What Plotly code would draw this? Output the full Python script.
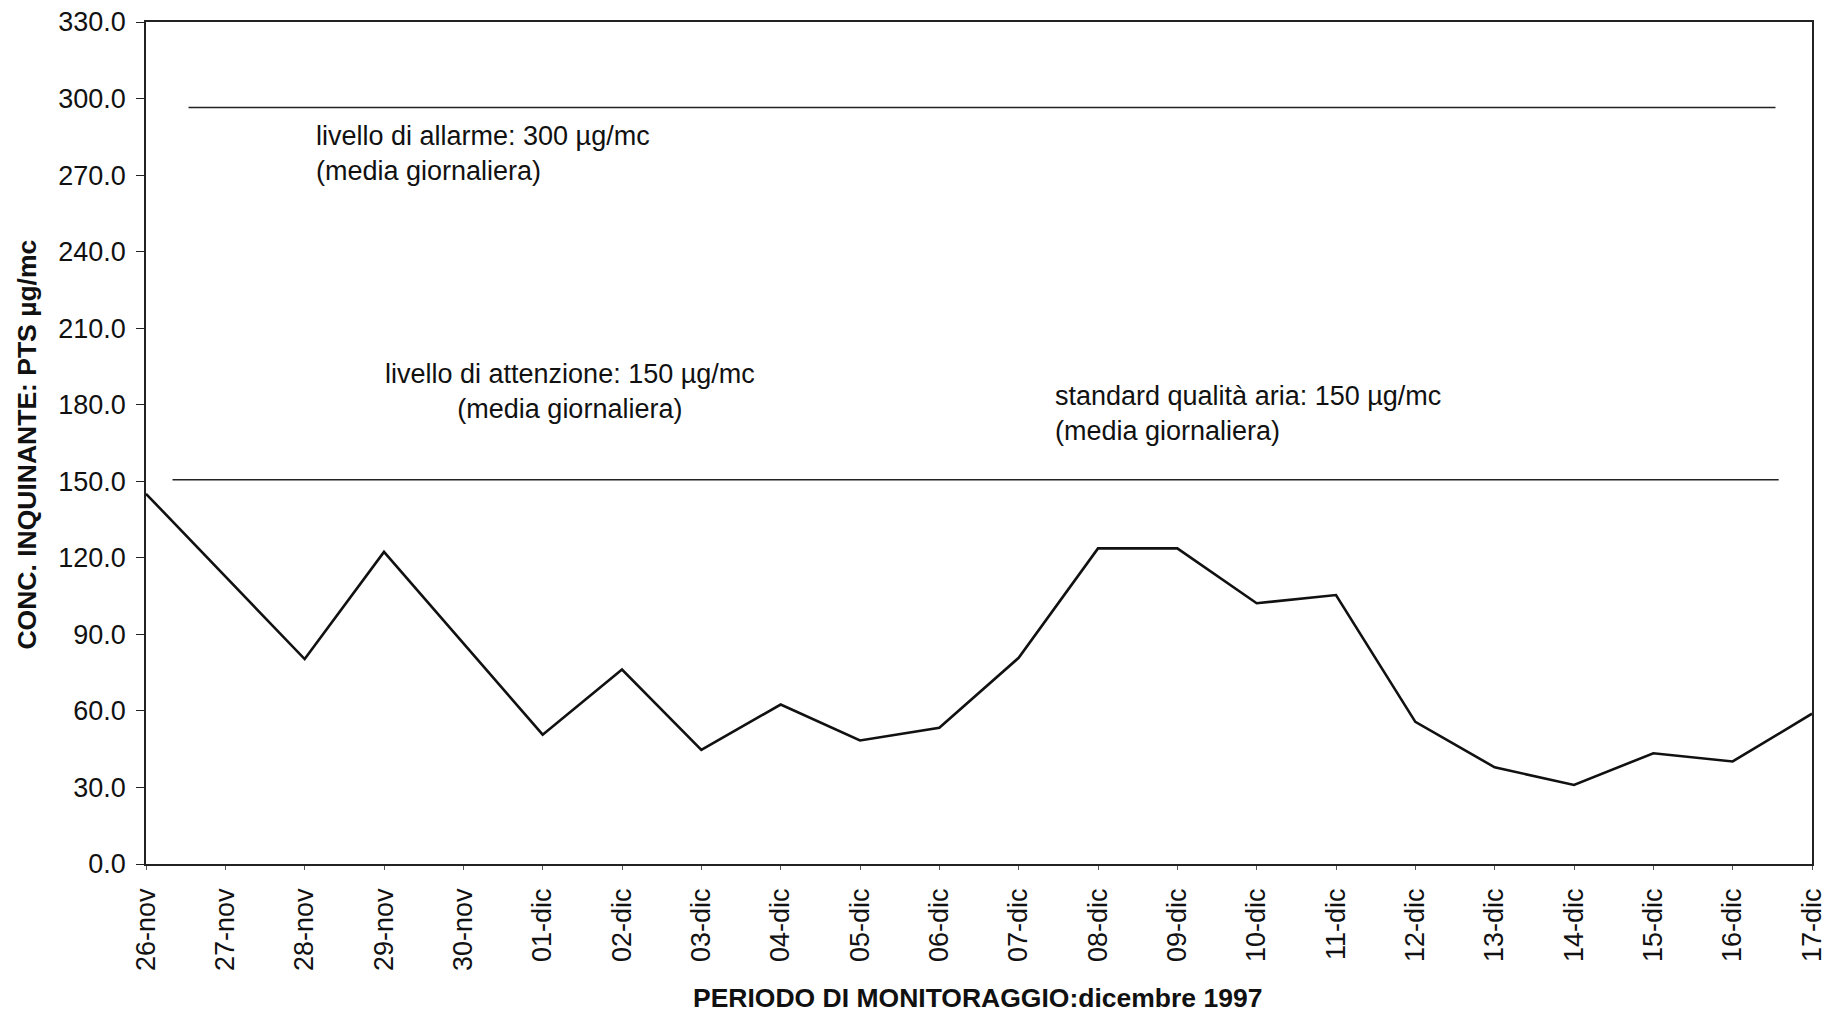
import plotly.graph_objects as go

# ---- data ----
dates = ["26-nov", "27-nov", "28-nov", "29-nov", "30-nov", "01-dic", "02-dic", "03-dic",
         "04-dic", "05-dic", "06-dic", "07-dic", "08-dic", "09-dic", "10-dic", "11-dic",
         "12-dic", "13-dic", "14-dic", "15-dic", "16-dic", "17-dic"]
pts_values = [145.1, 112.7, 80.3, 122.3, 86.5, 50.7, 76.2, 44.7, 62.5, 48.4, 53.4,
              80.8, 123.7, 123.7, 102.2, 105.4, 55.7, 37.9, 31.0, 43.4, 40.2, 58.9]

threshold_names = ["allarme", "attenzione"]
threshold_values = [296.5, 150.6]          # as drawn in the picture
threshold_x_start = [0.536, 0.334]          # category-index extents
threshold_x_end = [20.54, 20.58]

y_ticks = [0, 30, 60, 90, 120, 150, 180, 210, 240, 270, 300, 330]

FONT = "Liberation Sans, Arial, sans-serif"

fig = go.Figure()
fig.add_trace(go.Scatter(
    x=dates, y=pts_values, mode="lines",
    line=dict(color="#111111", width=2.6),
    showlegend=False, hoverinfo="x+y",
))

for v, x0, x1 in zip(threshold_values, threshold_x_start, threshold_x_end):
    fig.add_shape(type="line", xref="x", yref="y", x0=x0, x1=x1, y0=v, y1=v,
                  line=dict(color="#222222", width=1.3))

ann_font = dict(family=FONT, size=27, color="#111111")
fig.add_annotation(xref="paper", yref="paper", x=0.1011, y=0.8438,
                   xanchor="left", yanchor="middle", align="left", showarrow=False,
                   text="livello di allarme: 300 µg/mc<br>(media giornaliera)", font=ann_font)
fig.add_annotation(xref="paper", yref="paper", x=0.2547, y=0.5606,
                   xanchor="center", yanchor="middle", align="center", showarrow=False,
                   text="livello di attenzione: 150 µg/mc<br>(media giornaliera)", font=ann_font)
fig.add_annotation(xref="paper", yref="paper", x=0.5445, y=0.5356,
                   xanchor="left", yanchor="middle", align="left", showarrow=False,
                   text="standard qualità aria: 150 µg/mc<br>(media giornaliera)", font=ann_font)

# axis titles
title_font = dict(family=FONT, size=26.5, color="#111111")
fig.add_annotation(xref="paper", yref="paper", x=-0.0717, y=0.4976,
                   xanchor="center", yanchor="middle", showarrow=False, textangle=-90,
                   text="<b>CONC. INQUINANTE: PTS µg/mc</b>", font=title_font)
fig.add_annotation(xref="paper", yref="paper", x=0.4989, y=-0.159,
                   xanchor="center", yanchor="middle", showarrow=False,
                   text="<b>PERIODO DI MONITORAGGIO:dicembre 1997</b>", font=title_font)

fig.update_xaxes(
    type="category", categoryorder="array", categoryarray=dates,
    range=[0, len(dates) - 1], tickangle=-90,
    tickfont=dict(family=FONT, size=27, color="#111111"),
    showgrid=False, zeroline=False,
    showline=True, linecolor="#222222", linewidth=1.5, mirror=True,
    ticks="outside", ticklen=4, tickcolor="#555555", ticklabelstandoff=8,
    ticklabeloverflow="allow",
)
fig.update_yaxes(
    range=[0, 330], tickvals=y_ticks, tickformat=".1f",
    tickfont=dict(family=FONT, size=27, color="#111111"),
    showgrid=False, zeroline=False,
    showline=True, linecolor="#222222", linewidth=1.5, mirror=True,
    ticks="outside", ticklen=8, tickcolor="#222222", ticklabelstandoff=5,
    ticklabeloverflow="allow",
)

fig.update_layout(
    width=1825, height=1013,
    margin=dict(l=145.5, r=13, t=22, b=149, autoexpand=False),
    paper_bgcolor="white", plot_bgcolor="white",
    font=dict(family=FONT),
)

fig.write_html(
    "out.html",
    config={"displayModeBar": False},
    post_script="document.body.style.margin='0';document.body.style.overflow='hidden';",
)
